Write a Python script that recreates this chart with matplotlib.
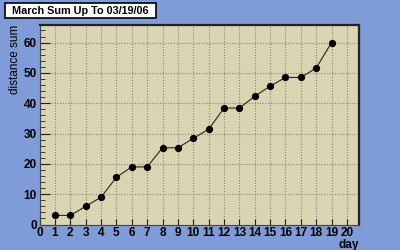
import matplotlib.pyplot as plt
from matplotlib.patches import Rectangle
from matplotlib.ticker import MultipleLocator

# daily cumulative distance, March 2006
days = [1, 2, 3, 4, 5, 6, 7, 8, 9, 10, 11, 12, 13, 14, 15, 16, 17, 18, 19]
distance_sum = [3.0, 3.0, 6.0, 9.0, 15.6, 19.0, 19.0, 25.3, 25.3, 28.4, 31.4,
                38.4, 38.4, 42.3, 45.6, 48.5, 48.5, 51.6, 60.0]
x_ticks = list(range(0, 21))
y_ticks = [0, 10, 20, 30, 40, 50, 60]

plt.rcParams['font.family'] = ['Liberation Sans', 'DejaVu Sans']

fig = plt.figure(figsize=(4, 2.5), dpi=100, facecolor="#7f9cd8")
ax = fig.add_axes([0.099, 0.102, 0.799, 0.798], facecolor="#d9d4b2")

ax.plot(days, distance_sum, color="#2a2418", lw=0.8, marker="o", ms=4.2,
        mfc="black", mec="black", zorder=3)

ax.set_xlim(0, 20.8)
ax.set_ylim(0, 65.8)
ax.set_xticks(x_ticks)
ax.set_yticks(y_ticks)
ax.yaxis.set_minor_locator(MultipleLocator(2))

ax.grid(True, which="major", color="#8a8670", ls=(0, (1, 1.5)), lw=0.8)

ax.tick_params(axis="both", which="both", direction="in", colors="#222222",
               labelsize=8.5, labelcolor="black", pad=2)
ax.tick_params(axis="x", which="major", length=4)
ax.tick_params(axis="y", which="major", length=7)
ax.tick_params(axis="y", which="minor", length=3.5)
for lab in ax.get_xticklabels() + ax.get_yticklabels():
    lab.set_fontweight("bold")

for side in ["left", "bottom"]:
    ax.spines[side].set_color("#444444")
    ax.spines[side].set_linewidth(0.8)
for side in ["top", "right"]:
    ax.spines[side].set_color("#222222")
    ax.spines[side].set_linewidth(1.6)

fig.text(0.038, 0.9, "distance sum", rotation=90, ha="center", va="top",
         fontsize=8.5)
ax.set_xlabel("day", fontsize=8.5, fontweight="bold", loc="right", labelpad=0)

# title box in the top left corner
fig.patches.append(Rectangle((0.012, 0.93), 0.378, 0.058, transform=fig.transFigure,
                             facecolor="white", edgecolor="black", lw=1.2, zorder=5))
fig.text(0.2, 0.958, "March Sum Up To 03/19/06", ha="center", va="center",
         fontsize=7.8, fontweight="bold", zorder=6)

fig.savefig("out.png", dpi=100, facecolor=fig.get_facecolor())
